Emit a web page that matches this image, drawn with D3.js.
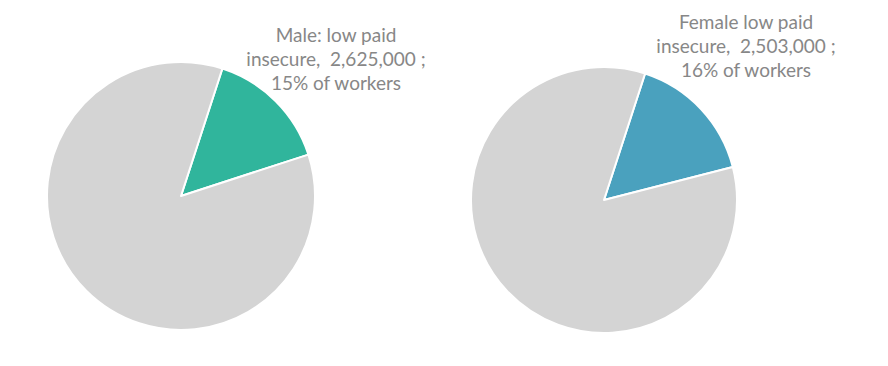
<!DOCTYPE html>
<html>
<head>
<meta charset="utf-8">
<script src="https://cdn.jsdelivr.net/npm/d3@7"></script>
<style>
  body { margin: 0; background: #fff; }
  #chart { width: 888px; height: 366px; }
</style>
</head>
<body>
<div id="chart"></div>
<script>
// data
const groups = ['Male', 'Female'];
const lowPaidInsecure = [2625000, 2503000];
const otherWorkers = [14875000, 13140750];
const shareLabels = ['15%', '16%'];
const labelFirstLines = ['Male: low paid', 'Female low paid'];

const sliceColors = ['#30b59c', '#4aa1be'];
const restColor = '#d4d4d4';

const width = 888, height = 366;
const svg = d3.select('#chart').append('svg')
    .attr('width', width)
    .attr('height', height);

// pie layout, highlighted slice first
const pie = d3.pie()
    .sort(null)
    .value(d => d.value)
    .startAngle(18 * Math.PI / 180)
    .endAngle(378 * Math.PI / 180);

const centers = [[181, 196], [604, 200]];
const radii = [134, 133];
const labelPos = [[336, 42], [746, 29]];
const fmt = d3.format(',');

groups.forEach((g, i) => {
    const slices = pie([
        { key: 'low', value: lowPaidInsecure[i] },
        { key: 'rest', value: otherWorkers[i] }
    ]);
    const arc = d3.arc().innerRadius(0).outerRadius(radii[i]);

    svg.append('g')
        .attr('transform', `translate(${centers[i][0]},${centers[i][1]})`)
        .selectAll('path')
        .data(slices)
        .enter()
        .append('path')
        .attr('d', arc)
        .attr('fill', d => d.data.key === 'low' ? sliceColors[i] : restColor)
        .attr('stroke', '#fff')
        .attr('stroke-width', 2)
        .attr('stroke-linejoin', 'round');

    // label
    const lines = [
        labelFirstLines[i],
        'insecure,\u00a0\u00a0' + fmt(lowPaidInsecure[i]) + ' ;',
        shareLabels[i] + ' of workers'
    ];
    svg.append('text')
        .attr('x', labelPos[i][0])
        .attr('y', labelPos[i][1])
        .attr('text-anchor', 'middle')
        .attr('fill', '#878787')
        .style('font-family', 'Lato, "Open Sans", sans-serif')
        .style('font-size', '19px')
        .selectAll('tspan')
        .data(lines)
        .enter()
        .append('tspan')
        .attr('x', labelPos[i][0])
        .attr('dy', (d, j) => j === 0 ? 0 : 24)
        .text(d => d);
});
</script>
</body>
</html>
